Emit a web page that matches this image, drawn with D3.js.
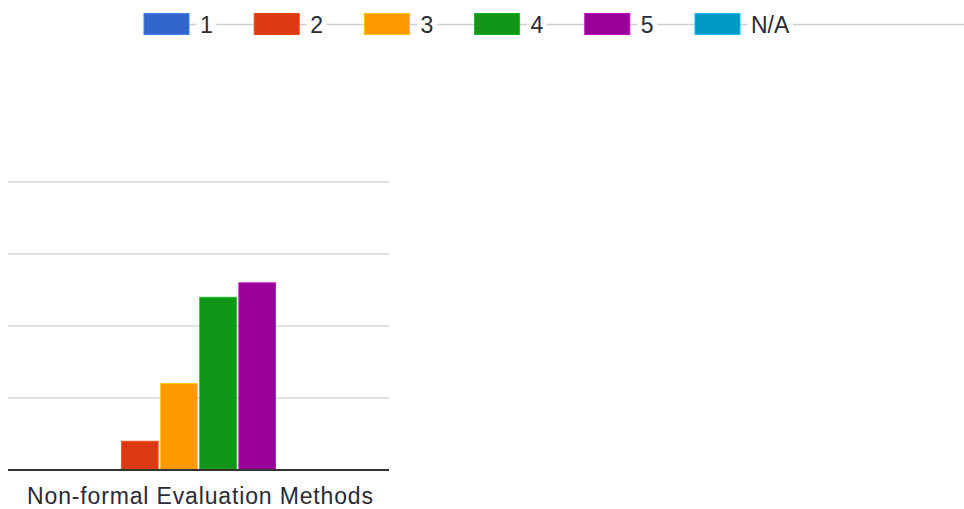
<!DOCTYPE html>
<html>
<head>
<meta charset="utf-8">
<script src="https://cdn.jsdelivr.net/npm/d3@7/dist/d3.min.js"></script>
<style>
  html, body { margin: 0; padding: 0; background: #fff; }
  svg { display: block; font-family: "Liberation Sans", Arial, sans-serif; }
</style>
</head>
<body>
<svg id="chart" width="964" height="509"></svg>
<script>
// Rating responses per score
const categories = ["Non-formal Evaluation Methods"];
const seriesNames = ["1", "2", "3", "4", "5", "N/A"];
const seriesValues = [0, 2, 6, 12, 13, 0];
const seriesColors = ["#3366cc", "#dc3912", "#ff9900", "#109618", "#990099", "#0099c6"];
const yTicks = [0, 5, 10, 15, 20];

const svg = d3.select("#chart");
const W = 964, H = 509;
const plot = { left: 8, right: 389, top: 182, bottom: 470 };

// Scales
const x0 = d3.scaleBand().domain(categories).range([plot.left, plot.right]).paddingInner(0).paddingOuter(0.319);
const x1 = d3.scaleBand().domain(seriesNames).range([0, x0.bandwidth()]).paddingInner(0.06).paddingOuter(0);
const y = d3.scaleLinear().domain([0, 20]).range([plot.bottom, plot.top]);
const color = d3.scaleOrdinal().domain(seriesNames).range(seriesColors);

// Gridlines
svg.append("g")
  .selectAll("line")
  .data(yTicks.filter(d => d > 0))
  .join("line")
  .attr("x1", plot.left).attr("x2", plot.right)
  .attr("y1", d => y(d)).attr("y2", d => y(d))
  .attr("stroke", "#d9d9d9").attr("stroke-width", 1.6);

// Bars
const rows = seriesNames.map((s, i) => ({ cat: categories[0], series: s, value: seriesValues[i] }));
svg.append("g")
  .selectAll("rect")
  .data(rows.filter(d => d.value > 0))
  .join("rect")
  .attr("x", d => x0(d.cat) + x1(d.series))
  .attr("width", x1.bandwidth())
  .attr("y", d => y(d.value))
  .attr("height", d => y(0) - y(d.value))
  .attr("fill", d => color(d.series))
  .attr("stroke", d => d3.color(color(d.series)).brighter(0.8))
  .attr("stroke-width", 0.8);

// Baseline
svg.append("line")
  .attr("x1", plot.left).attr("x2", plot.right)
  .attr("y1", y(0)).attr("y2", y(0))
  .attr("stroke", "#333").attr("stroke-width", 2);

// Category axis label, centred under the plot area
const xAxis = d3.axisBottom(x0).tickSize(0).tickPadding(0);
const gx = svg.append("g").attr("transform", `translate(0,${plot.bottom})`).call(xAxis);
gx.select(".domain").remove();
gx.selectAll(".tick").attr("transform", "translate(200,0)");
gx.selectAll("text")
  .attr("x", 0)
  .attr("y", 34)
  .attr("dy", 0)
  .attr("font-size", 23)
  .attr("font-family", "Liberation Sans, Arial, sans-serif")
  .attr("fill", "#2a2a33")
  .attr("textLength", 346)
  .attr("lengthAdjust", "spacing");

// Legend
const legend = svg.append("g");
const boxW = 46, boxH = 22, itemStep = 110.2, legX = 143.5, legY = 13;
legend.append("line")
  .attr("x1", legX + boxW).attr("x2", W)
  .attr("y1", legY + boxH / 2 + 0.5).attr("y2", legY + boxH / 2 + 0.5)
  .attr("stroke", "#cfcfcf").attr("stroke-width", 1.5);

const items = legend.selectAll("g.item")
  .data(seriesNames)
  .join("g")
  .attr("class", "item")
  .attr("transform", (d, i) => `translate(${legX + i * itemStep},${legY})`);

items.append("rect")
  .attr("x", 0.5).attr("y", 0.5)
  .attr("width", boxW - 1).attr("height", boxH - 1)
  .attr("fill", d => color(d))
  .attr("stroke", d => d3.color(color(d)).brighter(0.6))
  .attr("stroke-width", 1);

items.each(function(d) {
  const g = d3.select(this);
  const bg = g.append("rect").attr("fill", "#fff");
  const t = g.append("text")
    .attr("x", boxW + 10.5)
    .attr("y", 19.5)
    .attr("font-size", 23)
    .attr("fill", "#2a2a33")
    .text(d);
  const w = t.node().getComputedTextLength();
  bg.attr("x", boxW + 7).attr("y", 0).attr("width", w + 7).attr("height", boxH);
});
</script>
</body>
</html>
